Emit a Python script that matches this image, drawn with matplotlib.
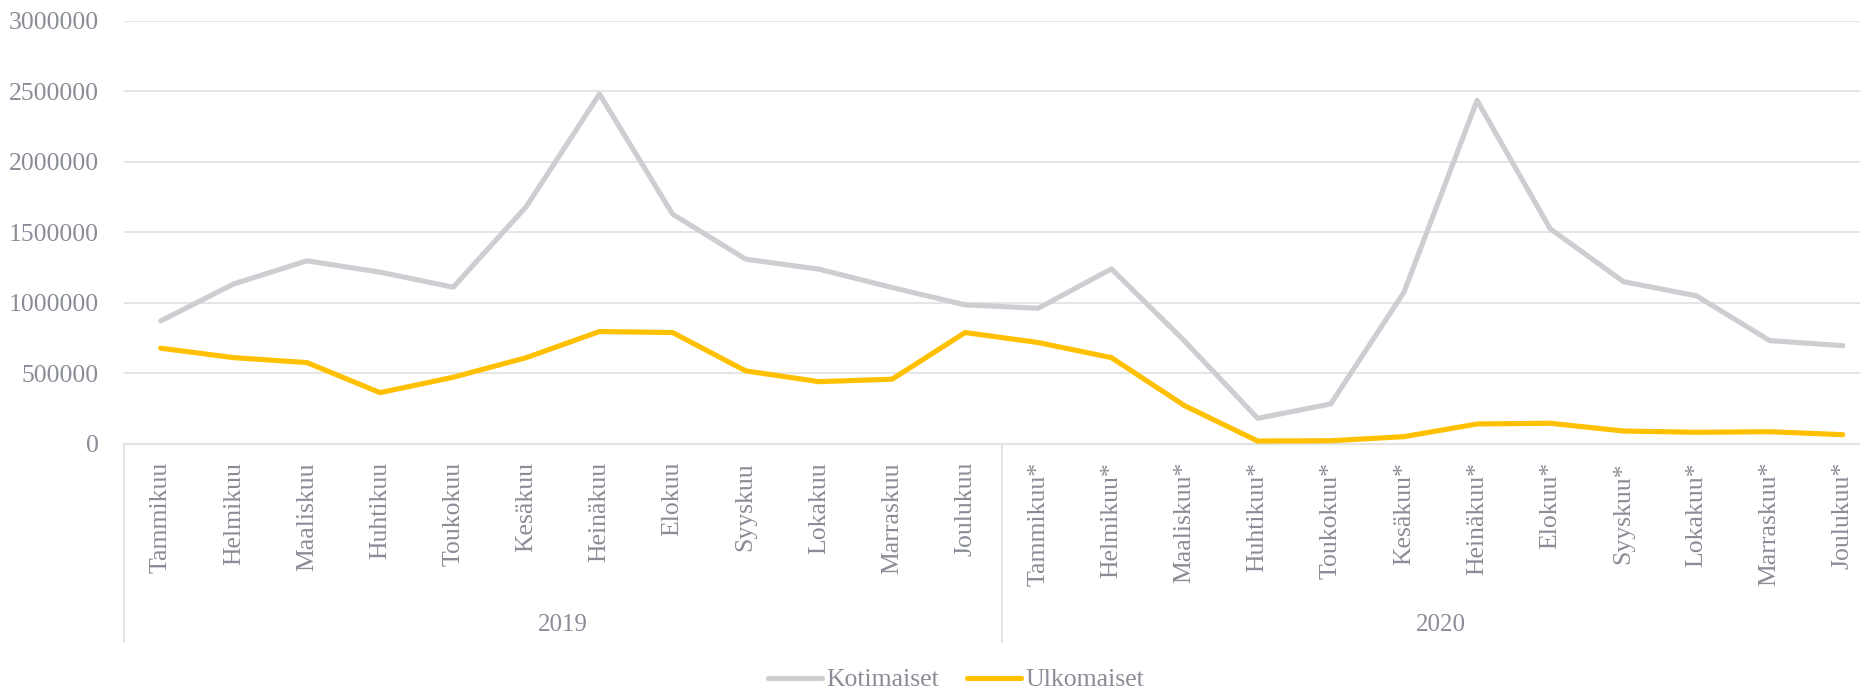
import matplotlib
matplotlib.use("Agg")
import matplotlib.pyplot as plt
from matplotlib.lines import Line2D
import matplotlib.transforms as mtransforms

months = ["Tammikuu", "Helmikuu", "Maaliskuu", "Huhtikuu", "Toukokuu", "Kesäkuu",
          "Heinäkuu", "Elokuu", "Syyskuu", "Lokakuu", "Marraskuu", "Joulukuu"]
years = ["2019", "2020"]
categories = months + [m + "*" for m in months]

kotimaiset = [872000, 1135000, 1298000, 1218000, 1111000, 1683000,
              2480000, 1629000, 1310000, 1239000, 1109000, 986000,
              962000, 1241000, 730000, 182000, 284000, 1076000,
              2435000, 1525000, 1151000, 1050000, 733000, 697000]
ulkomaiset = [679000, 612000, 577000, 364000, 473000, 612000,
              797000, 790000, 518000, 442000, 459000, 790000,
              719000, 612000, 272000, 21000, 23000, 52000,
              142000, 147000, 92000, 83000, 87000, 66000]
yticks = [0, 500000, 1000000, 1500000, 2000000, 2500000, 3000000]

TEXT = "#8a8d96"
GRID = "#e3e3e3"
GRAY = "#cdced2"
GOLD = "#ffc000"
FS = 18.5
LW = 3.7

plt.rcParams["font.family"] = ["Liberation Serif", "DejaVu Serif"]

W, H = 1860, 690
fig = plt.figure(figsize=(W / 100, H / 100), dpi=100)
left_px, right_px = 124.1, 1879.3
top_px, bottom_px = 20.7, 444.0
ax = fig.add_axes([left_px / W, 1 - bottom_px / H,
                   (right_px - left_px) / W, (bottom_px - top_px) / H])

x = list(range(len(categories)))
ax.plot(x, kotimaiset, color=GRAY, lw=LW, solid_capstyle="round", solid_joinstyle="round", zorder=3)
ax.plot(x, ulkomaiset, color=GOLD, lw=LW, solid_capstyle="round", solid_joinstyle="round", zorder=3)

ax.set_xlim(-0.5, len(categories) - 0.5)
ax.set_ylim(0, 3000000)
ax.set_yticks(yticks)
ax.set_yticklabels([str(v) for v in yticks])
ax.grid(axis="y", color=GRID, lw=1.3)
ax.set_axisbelow(True)
for s in ["top", "right", "left"]:
    ax.spines[s].set_visible(False)
ax.spines["bottom"].set_color(GRID)
ax.spines["bottom"].set_linewidth(1.5)

ax.set_xticks(x)
ax.set_xticklabels(categories, rotation=90, va="top", ha="center")
ax.tick_params(axis="x", length=0, pad=13, labelsize=FS, labelcolor=TEXT)
ax.tick_params(axis="y", length=0, pad=18, labelsize=FS, labelcolor=TEXT)

# group separators and year labels
trans = mtransforms.blended_transform_factory(ax.transData, ax.transAxes)
y_low = (bottom_px - 642) / (bottom_px - top_px)
for xs in [-0.5, 11.5, 23.5]:
    ax.add_line(Line2D([xs, xs], [0, y_low], transform=trans, color=GRID, lw=1.3, clip_on=False))
y_year = (bottom_px - 625) / (bottom_px - top_px)
for i, yr in enumerate(years):
    ax.text(5.5 + 12 * i, y_year, yr, transform=trans, ha="center", va="center",
            fontsize=18, color=TEXT)

handles = [Line2D([], [], color=GRAY, lw=LW, solid_capstyle="round"),
           Line2D([], [], color=GOLD, lw=LW, solid_capstyle="round")]
fig.legend(handles, ["Kotimaiset", "Ulkomaiset"], loc="center",
           bbox_to_anchor=(956 / W, 1 - 680 / H), ncol=2, frameon=False,
           fontsize=FS, labelcolor=TEXT, handlelength=2.1, handletextpad=0.15,
           columnspacing=1.1)

fig.savefig("out.png", dpi=100, facecolor="white")
